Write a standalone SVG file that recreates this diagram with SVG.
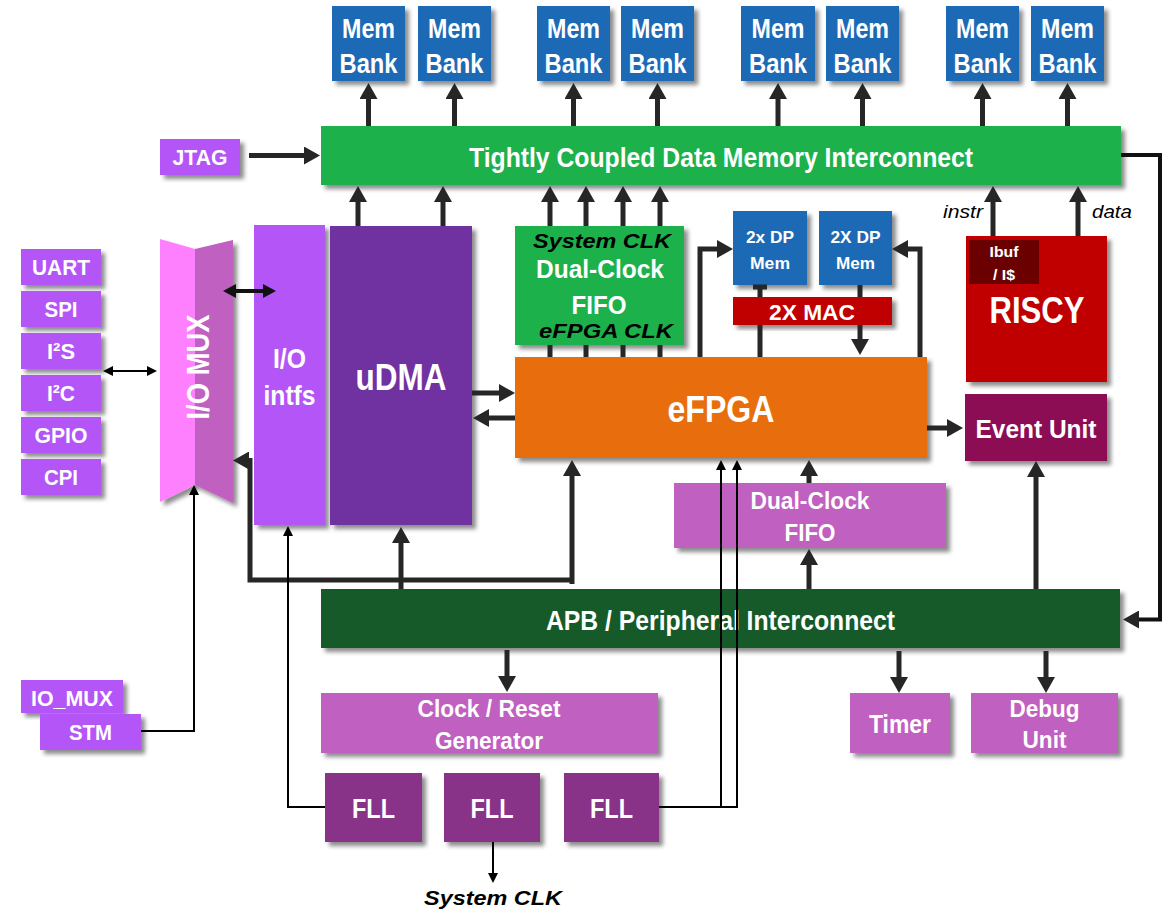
<svg xmlns="http://www.w3.org/2000/svg" width="1169" height="911" viewBox="0 0 1169 911">
<defs>
  <filter id="sh" x="-10%" y="-10%" width="130%" height="130%">
    <feDropShadow dx="4" dy="4" stdDeviation="2.2" flood-color="#000" flood-opacity="0.45"/>
  </filter>
  <marker id="ah" markerUnits="userSpaceOnUse" markerWidth="18" markerHeight="18" refX="8" refY="9" orient="auto-start-reverse">
    <path d="M0,0 L16,9 L0,18 z" fill="#262626"/>
  </marker>
  <marker id="am" markerUnits="userSpaceOnUse" markerWidth="14" markerHeight="14" refX="6" refY="7" orient="auto-start-reverse">
    <path d="M0,0 L13,7 L0,14 z" fill="#111"/>
  </marker>
  <marker id="as" markerUnits="userSpaceOnUse" markerWidth="11" markerHeight="11" refX="5" refY="5" orient="auto-start-reverse">
    <path d="M0,0 L10,5 L0,10 z" fill="#000"/>
  </marker>
  <style>
    .b { filter: url(#sh); }
    .mem { fill: #1B6AB5; }
    .grn { fill: #1FB14B; }
    .pur { fill: #B455F8; }
    .pink { fill: #C060C0; }
    .fll { fill: #883088; }
    .t { font-family: "Liberation Sans Narrow", "Arial Narrow", "Liberation Sans", Arial, sans-serif; font-weight: bold; fill: #fff; text-anchor: middle; }
    .it { font-family: "Liberation Sans Narrow", "Arial Narrow", "Liberation Sans", Arial, sans-serif; font-weight: bold; font-style: italic; fill: #000; text-anchor: middle; }
    .lbl { font-family: "Liberation Sans Narrow", "Arial Narrow", "Liberation Sans", Arial, sans-serif; font-style: italic; fill: #000; font-size: 18px; }
    .thick { fill: none; stroke: #262626; stroke-width: 5; }
    .mid { fill: none; stroke: #111; stroke-width: 4; }
    .thin { fill: none; stroke: #000; stroke-width: 2; }
  </style>
</defs>

<!-- memory banks -->
<g id="mem-banks">
  <g id="bank1"><rect class="b mem" x="332" y="6" width="73" height="75"/><text class="t" x="368.5" y="38" font-size="27" textLength="53" lengthAdjust="spacingAndGlyphs">Mem</text><text class="t" x="368.5" y="73" font-size="27" textLength="58" lengthAdjust="spacingAndGlyphs">Bank</text></g>
  <g id="bank2"><rect class="b mem" x="418" y="6" width="73" height="75"/><text class="t" x="454.5" y="38" font-size="27" textLength="53" lengthAdjust="spacingAndGlyphs">Mem</text><text class="t" x="454.5" y="73" font-size="27" textLength="58" lengthAdjust="spacingAndGlyphs">Bank</text></g>
  <g id="bank3"><rect class="b mem" x="537" y="6" width="73" height="75"/><text class="t" x="573.5" y="38" font-size="27" textLength="53" lengthAdjust="spacingAndGlyphs">Mem</text><text class="t" x="573.5" y="73" font-size="27" textLength="58" lengthAdjust="spacingAndGlyphs">Bank</text></g>
  <g id="bank4"><rect class="b mem" x="621" y="6" width="73" height="75"/><text class="t" x="657.5" y="38" font-size="27" textLength="53" lengthAdjust="spacingAndGlyphs">Mem</text><text class="t" x="657.5" y="73" font-size="27" textLength="58" lengthAdjust="spacingAndGlyphs">Bank</text></g>
  <g id="bank5"><rect class="b mem" x="741" y="6" width="74" height="75"/><text class="t" x="778" y="38" font-size="27" textLength="53" lengthAdjust="spacingAndGlyphs">Mem</text><text class="t" x="778" y="73" font-size="27" textLength="58" lengthAdjust="spacingAndGlyphs">Bank</text></g>
  <g id="bank6"><rect class="b mem" x="826" y="6" width="73" height="75"/><text class="t" x="862.5" y="38" font-size="27" textLength="53" lengthAdjust="spacingAndGlyphs">Mem</text><text class="t" x="862.5" y="73" font-size="27" textLength="58" lengthAdjust="spacingAndGlyphs">Bank</text></g>
  <g id="bank7"><rect class="b mem" x="946" y="6" width="73" height="75"/><text class="t" x="982.5" y="38" font-size="27" textLength="53" lengthAdjust="spacingAndGlyphs">Mem</text><text class="t" x="982.5" y="73" font-size="27" textLength="58" lengthAdjust="spacingAndGlyphs">Bank</text></g>
  <g id="bank8"><rect class="b mem" x="1031" y="6" width="73" height="75"/><text class="t" x="1067.5" y="38" font-size="27" textLength="53" lengthAdjust="spacingAndGlyphs">Mem</text><text class="t" x="1067.5" y="73" font-size="27" textLength="58" lengthAdjust="spacingAndGlyphs">Bank</text></g>
</g>

<g id="jtag"><rect class="b pur" x="160" y="139" width="80" height="36"/><text class="t" x="200" y="165" font-size="22" textLength="55" lengthAdjust="spacingAndGlyphs">JTAG</text></g>

<g id="tcdm"><rect class="b grn" x="321" y="126" width="800" height="59"/><text class="t" x="721" y="167" font-size="28" textLength="504" lengthAdjust="spacingAndGlyphs">Tightly Coupled Data Memory Interconnect</text></g>

<!-- peripheral pads -->
<g id="uart"><rect class="b pur" x="21" y="249" width="80" height="36"/><text class="t" x="61" y="275" font-size="22" textLength="58" lengthAdjust="spacingAndGlyphs">UART</text></g>
<g id="spi"><rect class="b pur" x="21" y="291" width="80" height="36"/><text class="t" x="61" y="317" font-size="22" textLength="33" lengthAdjust="spacingAndGlyphs">SPI</text></g>
<g id="i2s"><rect class="b pur" x="21" y="333" width="80" height="36"/><text class="t" x="61" y="359" font-size="22" textLength="28" lengthAdjust="spacingAndGlyphs">I²S</text></g>
<g id="i2c"><rect class="b pur" x="21" y="375" width="80" height="36"/><text class="t" x="61" y="401" font-size="22" textLength="28" lengthAdjust="spacingAndGlyphs">I²C</text></g>
<g id="gpio"><rect class="b pur" x="21" y="417" width="80" height="36"/><text class="t" x="61" y="443" font-size="22" textLength="53" lengthAdjust="spacingAndGlyphs">GPIO</text></g>
<g id="cpi"><rect class="b pur" x="21" y="459" width="80" height="36"/><text class="t" x="61" y="485" font-size="22" textLength="34" lengthAdjust="spacingAndGlyphs">CPI</text></g>

<g id="io-mux">
  <g class="b">
    <polygon points="160,239 195,249 195,485 160,502" fill="#FF80FF"/>
    <polygon points="195,249 233,240 233,503 195,485" fill="#C060C0"/>
  </g>
  <text class="t" transform="translate(209,367) rotate(-90)" x="0" y="0" font-size="32" textLength="105" lengthAdjust="spacingAndGlyphs">I/O MUX</text>
</g>

<g id="io-intfs"><rect class="b pur" x="254" y="225" width="71" height="300"/><text class="t" x="289.5" y="368" font-size="28" textLength="33" lengthAdjust="spacingAndGlyphs">I/O</text><text class="t" x="289.5" y="405" font-size="28" textLength="52" lengthAdjust="spacingAndGlyphs">intfs</text></g>

<g id="udma"><rect class="b" x="330" y="226" width="142" height="299" fill="#7030A0"/><text class="t" x="401" y="390" font-size="36" textLength="91" lengthAdjust="spacingAndGlyphs">uDMA</text></g>

<g id="fifo-top"><rect class="b grn" x="515" y="226" width="169" height="119"/>
  <text class="it" x="602" y="248" font-size="20" textLength="138" lengthAdjust="spacingAndGlyphs">System CLK</text>
  <text class="t" x="600" y="278" font-size="25" textLength="128" lengthAdjust="spacingAndGlyphs">Dual-Clock</text>
  <text class="t" x="599" y="314" font-size="25" textLength="55" lengthAdjust="spacingAndGlyphs">FIFO</text>
  <text class="it" x="606" y="338" font-size="20" textLength="134" lengthAdjust="spacingAndGlyphs">eFPGA CLK</text>
</g>

<g id="efpga"><rect class="b" x="515" y="357" width="412" height="101" fill="#E86E0A"/><text class="t" x="721" y="422" font-size="36" textLength="107" lengthAdjust="spacingAndGlyphs">eFPGA</text></g>

<g id="dp-mem1"><rect class="b mem" x="733" y="211" width="74" height="74"/><text class="t" x="770" y="243" font-size="17" textLength="48" lengthAdjust="spacingAndGlyphs">2x DP</text><text class="t" x="770" y="269" font-size="17" textLength="40" lengthAdjust="spacingAndGlyphs">Mem</text></g>
<g id="dp-mem2"><rect class="b mem" x="819" y="211" width="73" height="74"/><text class="t" x="855.5" y="243" font-size="17" textLength="50" lengthAdjust="spacingAndGlyphs">2X DP</text><text class="t" x="855.5" y="269" font-size="17" textLength="39" lengthAdjust="spacingAndGlyphs">Mem</text></g>

<g id="mac"><rect class="b" x="733" y="297" width="159" height="28" fill="#C00000"/><text class="t" x="812" y="320" font-size="22" textLength="86" lengthAdjust="spacingAndGlyphs">2X MAC</text></g>

<g id="riscy"><rect class="b" x="966" y="236" width="141" height="146" fill="#C00000"/>
  <rect x="969" y="240" width="70" height="44" fill="#6B0000"/>
  <text class="t" x="1004" y="257" font-size="15" textLength="29" lengthAdjust="spacingAndGlyphs">Ibuf</text>
  <text class="t" x="1004" y="280" font-size="15" textLength="22" lengthAdjust="spacingAndGlyphs">/ I$</text>
  <text class="t" x="1037" y="323" font-size="36" textLength="95" lengthAdjust="spacingAndGlyphs">RISCY</text>
</g>

<g id="event-unit"><rect class="b" x="965" y="394" width="142" height="67" fill="#8C0A52"/><text class="t" x="1036" y="438" font-size="26" textLength="121" lengthAdjust="spacingAndGlyphs">Event Unit</text></g>

<g id="fifo-bottom"><rect class="b pink" x="674" y="483" width="272" height="65"/><text class="t" x="810" y="509" font-size="24" textLength="119" lengthAdjust="spacingAndGlyphs">Dual-Clock</text><text class="t" x="810" y="541" font-size="24" textLength="51" lengthAdjust="spacingAndGlyphs">FIFO</text></g>

<g id="apb"><rect class="b" x="321" y="589" width="799" height="59" fill="#125A29"/><text class="t" x="720.5" y="630" font-size="28" textLength="349" lengthAdjust="spacingAndGlyphs">APB / Peripheral Interconnect</text></g>

<g id="io-mux-stm">
  <rect class="b pur" x="21" y="680" width="102" height="33"/><text class="t" x="72" y="706" font-size="22" textLength="82" lengthAdjust="spacingAndGlyphs">IO_MUX</text>
  <rect class="b pur" x="40" y="714" width="101" height="36"/><text class="t" x="90.5" y="740" font-size="22" textLength="43" lengthAdjust="spacingAndGlyphs">STM</text>
</g>

<g id="clock-reset"><rect class="b pink" x="321" y="693" width="337" height="60"/><text class="t" x="489" y="717" font-size="24" textLength="143" lengthAdjust="spacingAndGlyphs">Clock / Reset</text><text class="t" x="489" y="749" font-size="24" textLength="108" lengthAdjust="spacingAndGlyphs">Generator</text></g>

<g id="timer"><rect class="b pink" x="850" y="693" width="100" height="60"/><text class="t" x="900" y="733" font-size="25" textLength="62" lengthAdjust="spacingAndGlyphs">Timer</text></g>

<g id="debug"><rect class="b pink" x="971" y="693" width="147" height="60"/><text class="t" x="1044.5" y="717" font-size="24" textLength="70" lengthAdjust="spacingAndGlyphs">Debug</text><text class="t" x="1044.5" y="748" font-size="24" textLength="44" lengthAdjust="spacingAndGlyphs">Unit</text></g>

<g id="fll1"><rect class="b fll" x="325" y="773" width="97" height="69"/><text class="t" x="373.5" y="818" font-size="27" textLength="43" lengthAdjust="spacingAndGlyphs">FLL</text></g>
<g id="fll2"><rect class="b fll" x="444" y="773" width="96" height="69"/><text class="t" x="492" y="818" font-size="27" textLength="43" lengthAdjust="spacingAndGlyphs">FLL</text></g>
<g id="fll3"><rect class="b fll" x="564" y="773" width="95" height="69"/><text class="t" x="611.5" y="818" font-size="27" textLength="43" lengthAdjust="spacingAndGlyphs">FLL</text></g>

<text class="lbl" x="983" y="218" text-anchor="end" textLength="40" lengthAdjust="spacingAndGlyphs">instr</text>
<text class="lbl" x="1092" y="218" textLength="40" lengthAdjust="spacingAndGlyphs">data</text>
<text class="it" x="493" y="905" font-size="20" textLength="138" lengthAdjust="spacingAndGlyphs">System CLK</text>

<g id="connectors">
  <!-- TCDM to memory banks -->
  <path class="thick" marker-end="url(#ah)" d="M368.5,126 V91"/>
  <path class="thick" marker-end="url(#ah)" d="M454.5,126 V91"/>
  <path class="thick" marker-end="url(#ah)" d="M573.5,126 V91"/>
  <path class="thick" marker-end="url(#ah)" d="M657.5,126 V91"/>
  <path class="thick" marker-end="url(#ah)" d="M778,126 V91"/>
  <path class="thick" marker-end="url(#ah)" d="M862.5,126 V91"/>
  <path class="thick" marker-end="url(#ah)" d="M982.5,126 V91"/>
  <path class="thick" marker-end="url(#ah)" d="M1067.5,126 V91"/>
  <!-- JTAG -->
  <path class="thick" marker-end="url(#ah)" d="M249,155.5 H312"/>
  <!-- masters into TCDM -->
  <path class="thick" marker-end="url(#ah)" d="M358,226 V194"/>
  <path class="thick" marker-end="url(#ah)" d="M443,226 V194"/>
  <path class="thick" marker-end="url(#ah)" d="M550,226 V194"/>
  <path class="thick" marker-end="url(#ah)" d="M586,226 V194"/>
  <path class="thick" marker-end="url(#ah)" d="M623,226 V194"/>
  <path class="thick" marker-end="url(#ah)" d="M660,226 V194"/>
  <path class="thick" marker-end="url(#ah)" d="M993,236 V194"/>
  <path class="thick" marker-end="url(#ah)" d="M1078,236 V194"/>
  <!-- FIFO to eFPGA -->
  <path class="thick" d="M550,345 V357 M586,345 V357 M623,345 V357 M660,345 V357"/>
  <!-- TCDM to APB -->
  <path class="mid" marker-end="url(#ah)" d="M1121,155 H1160 V619.5 H1131"/>
  <!-- pads to I/O MUX -->
  <path class="thin" stroke-width="2.5" marker-start="url(#as)" marker-end="url(#as)" d="M108,371 H152"/>
  <path class="mid" marker-start="url(#am)" marker-end="url(#am)" d="M230,291 H269"/>
  <path class="thin" marker-end="url(#as)" d="M141,731 H194 V490"/>
  <!-- uDMA / eFPGA -->
  <path class="thick" marker-end="url(#ah)" d="M472,393 H507"/>
  <path class="thick" marker-end="url(#ah)" d="M515,418 H481"/>
  <path class="thick" marker-end="url(#ah)" d="M572,584 V468"/>
  <path class="thick" marker-end="url(#ah)" d="M572,580 H250 V460.5 H241"/>
  <path class="thick" marker-end="url(#ah)" d="M401,589 V535"/>
  <!-- eFPGA accelerator -->
  <path class="thick" marker-end="url(#ah)" d="M700,357 V249 H725"/>
  <path class="thick" marker-end="url(#ah)" d="M920,357 V249 H900"/>
  <path class="thick" d="M760,285 V297 M760,325 V357 M753,287 H767"/>
  <path class="thick" d="M860,285 V297"/>
  <path class="thick" marker-end="url(#ah)" d="M860,325 V347"/>
  <path class="thick" marker-end="url(#ah)" d="M927,428 H955"/>
  <!-- peripheral side -->
  <path class="thick" marker-end="url(#ah)" d="M1036,589 V469"/>
  <path class="thick" marker-end="url(#ah)" d="M809,483 V468"/>
  <path class="thick" marker-end="url(#ah)" d="M809,589 V557"/>
  <path class="thick" marker-end="url(#ah)" d="M507,650 V684"/>
  <path class="thick" marker-end="url(#ah)" d="M899,651 V685"/>
  <path class="thick" marker-end="url(#ah)" d="M1046,651 V685"/>
  <!-- clock lines -->
  <path class="thin" marker-end="url(#as)" d="M325,807 H288 V531"/>
  <path class="thin" marker-end="url(#as)" d="M659,807 H737 V465"/>
  <path class="thin" marker-end="url(#as)" d="M721,807 V465"/>
  <path class="thin" marker-end="url(#as)" d="M493,842 V878"/>
</g>
</svg>
